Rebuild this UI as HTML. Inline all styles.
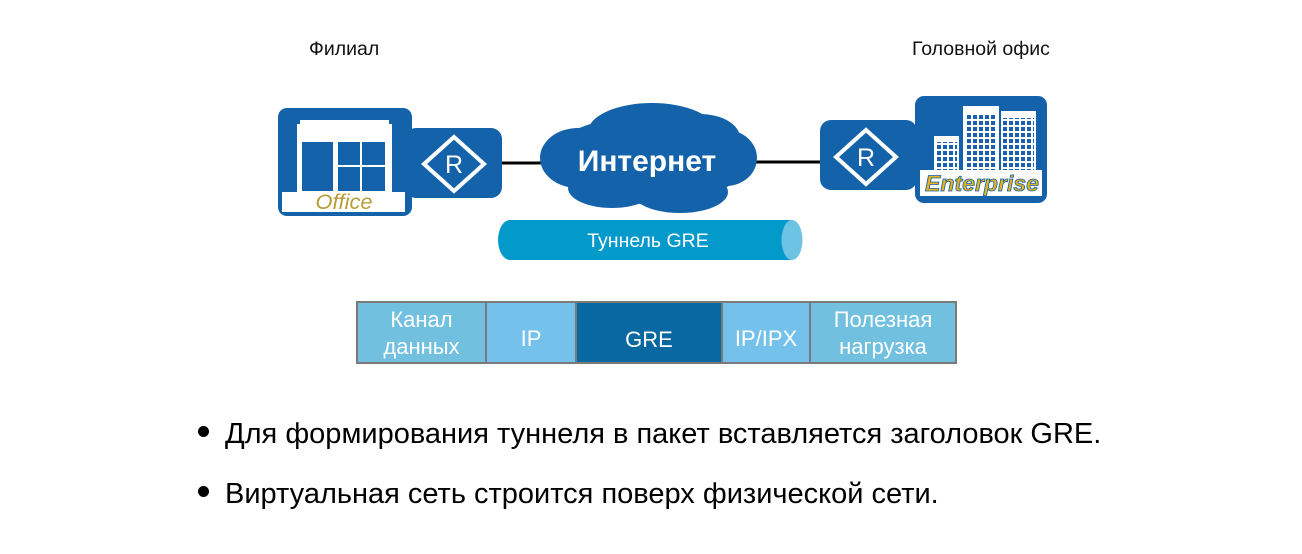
<!DOCTYPE html>
<html><head><meta charset="utf-8">
<style>
html,body{margin:0;padding:0;background:#fff;}
body{width:1302px;height:554px;position:relative;overflow:hidden;font-family:"Liberation Sans",Arial,sans-serif;}
.abs{position:absolute;}
.lbl{font-size:19.5px;color:#111;white-space:nowrap;line-height:22px;}
.cell{position:absolute;top:301px;height:63px;box-sizing:border-box;border:2px solid #7a7a7a;color:#fff;font-family:"Liberation Sans","DejaVu Sans",sans-serif;font-size:22px;display:flex;align-items:center;justify-content:center;text-align:center;line-height:27px;}
.bul{position:absolute;left:198px;font-size:29px;color:#000;white-space:nowrap;line-height:34px;}
.bul span.d{display:inline-block;width:11px;height:11px;border-radius:50%;background:#000;margin-right:16px;vertical-align:middle;position:relative;top:-4px;}
</style></head>
<body>
<div class="abs lbl" style="left:309px;top:38px;">Филиал</div>
<div class="abs lbl" style="left:912px;top:38px;">Головной офис</div>

<svg class="abs" style="left:0;top:0" width="1302" height="300" viewBox="0 0 1302 300">
  <defs>
    <pattern id="win" x="0" y="0" width="6" height="6" patternUnits="userSpaceOnUse">
      <rect x="1" y="1" width="4" height="4" fill="#1a5fb0"/>
    </pattern>
  </defs>
  <!-- connector lines -->
  <line x1="500" y1="163" x2="545" y2="163" stroke="#000" stroke-width="3"/>
  <line x1="752" y1="162" x2="822" y2="162" stroke="#000" stroke-width="3"/>

  <!-- Office box -->
  <rect x="278" y="108" width="134" height="108" rx="9" fill="#1462aa"/>
  <path d="M297 124 L300 124 L300 120 L389 120 L389 124 L392 124 L392 193 L297 193 Z" fill="#fff"/>
  <rect x="282" y="192" width="123" height="20" fill="#fff"/>
  <rect x="302" y="142" width="31" height="49" fill="#1462aa"/>
  <rect x="338" y="142" width="22" height="23" fill="#1462aa"/>
  <rect x="362" y="142" width="23" height="23" fill="#1462aa"/>
  <rect x="338" y="167" width="22" height="24" fill="#1462aa"/>
  <rect x="362" y="167" width="23" height="24" fill="#1462aa"/>
  <text x="344" y="209" text-anchor="middle" font-family="Liberation Sans, sans-serif" font-style="italic" font-size="21" textLength="57" lengthAdjust="spacingAndGlyphs" fill="#b89c38">Office</text>

  <!-- Left router -->
  <rect x="405" y="128" width="97" height="70" rx="11" fill="#1462aa"/>
  <polygon points="454,137 484,164 454,191 424,164" fill="none" stroke="#fff" stroke-width="4"/>
  <text x="454" y="173" text-anchor="middle" font-family="Liberation Sans, sans-serif" font-size="25" fill="#fff">R</text>

  <!-- Cloud -->
  <g fill="#1462aa">
    <ellipse cx="648" cy="160" rx="100" ry="44"/>
    <ellipse cx="652" cy="132" rx="64" ry="29"/>
    <ellipse cx="700" cy="138" rx="40" ry="24"/>
    <ellipse cx="578" cy="158" rx="38" ry="30"/>
    <ellipse cx="612" cy="188" rx="44" ry="20"/>
    <ellipse cx="680" cy="192" rx="48" ry="21"/>
    <ellipse cx="726" cy="158" rx="31" ry="28"/>
  </g>
  <text x="647" y="171" text-anchor="middle" font-family="Liberation Sans, sans-serif" font-weight="bold" font-size="30" fill="#fff">Интернет</text>

  <!-- Tunnel -->
  <path d="M510 220 L792 220 L792 260 L510 260 A12 20 0 0 1 510 220 Z" fill="#0399cb"/>
  <ellipse cx="792" cy="240" rx="10.5" ry="20" fill="#6cc3e3"/>
  <text x="648" y="247" text-anchor="middle" font-family="Liberation Sans, sans-serif" font-size="19.5" fill="#fff">Туннель GRE</text>

  <!-- Right router -->
  <rect x="820" y="120" width="97" height="70" rx="11" fill="#1462aa"/>
  <polygon points="866,130 896,157 866,184 836,157" fill="none" stroke="#fff" stroke-width="4"/>
  <text x="866" y="166" text-anchor="middle" font-family="Liberation Sans, sans-serif" font-size="25" fill="#fff">R</text>

  <!-- Enterprise box -->
  <rect x="915" y="96" width="132" height="107" rx="9" fill="#1462aa"/>
  <rect x="934" y="136" width="25" height="36" fill="#fff"/>
  <rect x="936" y="142" width="21" height="28" fill="url(#win)"/>
  <rect x="963" y="106" width="36" height="66" fill="#fff"/>
  <rect x="965" y="114" width="32" height="56" fill="url(#win)"/>
  <rect x="1001" y="111" width="35" height="61" fill="#fff"/>
  <rect x="1003" y="118" width="31" height="52" fill="url(#win)"/>
  <rect x="920" y="170" width="122" height="26" fill="#fff"/>
  <text x="982" y="191" text-anchor="middle" font-family="Liberation Sans, sans-serif" font-weight="bold" font-style="italic" font-size="22" textLength="114" lengthAdjust="spacingAndGlyphs" fill="#e6b21e" stroke="#1462aa" stroke-width="0.8">Enterprise</text>
</svg>

<!-- Packet -->
<div class="cell" style="left:356px;width:131px;background:#71c0e0;">Канал<br>данных</div>
<div class="cell" style="left:485px;width:92px;background:#74c2ec;padding-top:12px;">IP</div>
<div class="cell" style="left:575px;width:148px;background:#0868a2;padding-top:14px;">GRE</div>
<div class="cell" style="left:721px;width:90px;background:#74c2ec;padding-top:12px;">IP/IPX</div>
<div class="cell" style="left:809px;width:148px;background:#71c0e0;">Полезная<br>нагрузка</div>

<!-- Bullets -->
<div class="bul" style="top:417px;"><span class="d"></span>Для формирования туннеля в пакет вставляется заголовок GRE.</div>
<div class="bul" style="top:477px;"><span class="d"></span>Виртуальная сеть строится поверх физической сети.</div>
</body></html>
